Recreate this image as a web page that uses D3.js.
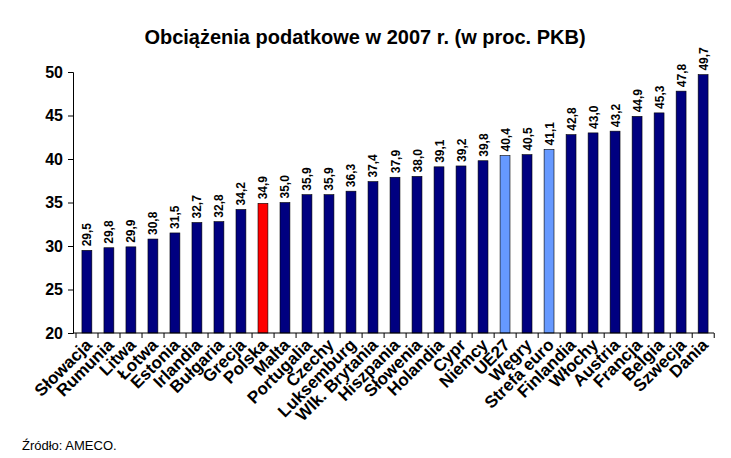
<!DOCTYPE html>
<html><head><meta charset="utf-8">
<script src="https://cdn.jsdelivr.net/npm/d3@7"></script>
<style>body{margin:0;background:#fff}text{font-family:Arial,"Liberation Sans",sans-serif}</style>
</head><body><svg id="c" width="731" height="458"></svg>
<script>
var countries = ["Słowacja","Rumunia","Litwa","Łotwa","Estonia","Irlandia","Bułgaria","Grecja","Polska","Malta","Portugalia","Czechy","Luksemburg","Wlk. Brytania","Hiszpania","Słowenia","Holandia","Cypr","Niemcy","UE27","Węgry","Strefa euro","Finlandia","Włochy","Austria","Francja","Belgia","Szwecja","Dania"];
var values = [29.5,29.8,29.9,30.8,31.5,32.7,32.8,34.2,34.9,35.0,35.9,35.9,36.3,37.4,37.9,38.0,39.1,39.2,39.8,40.4,40.5,41.1,42.8,43.0,43.2,44.9,45.3,47.8,49.7];
var yTicks = [20,25,30,35,40,45,50];

var svg = d3.select("#c");
var x = d3.scaleBand().domain(countries).range([76, 714]).paddingInner(0.55).paddingOuter(0.27);
var y = d3.scaleLinear().domain([20, 50]).range([333, 72]);

function color(d) {
  if (d == "Polska") return "#ff0000";
  if (d == "UE27" || d == "Strefa euro") return "#6699ff";
  return "#000080";
}

svg.append("text").attr("x", 365).attr("y", 44).attr("text-anchor", "middle")
  .style("font-size", "20px").style("font-weight", "bold").text("Obciążenia podatkowe w 2007 r. (w proc. PKB)");

svg.selectAll("rect.bar").data(countries).enter().append("rect")
  .attr("x", function(d) { return x(d); })
  .attr("width", x.bandwidth())
  .attr("y", function(d, i) { return y(values[i]); })
  .attr("height", function(d, i) { return 333 - y(values[i]); })
  .attr("fill", function(d) { return color(d); })
  .attr("stroke", "#000").attr("stroke-width", 0.6);

svg.selectAll("text.val").data(countries).enter().append("text")
  .attr("transform", function(d, i) {
    return "translate(" + (x(d) + x.bandwidth() / 2 + 4.5) + "," + (y(values[i]) - 4) + ") rotate(-90)";
  })
  .style("font-size", "12px").style("font-weight", "bold")
  .text(function(d, i) { return values[i].toFixed(1).replace(".", ","); });

// y axis
var ya = svg.append("g").attr("transform", "translate(73,0)")
  .call(d3.axisLeft(y).tickValues(yTicks).tickSize(5).tickPadding(5));
ya.select(".domain").attr("stroke", "#000");
ya.selectAll("text").style("font-size", "16px").style("font-weight", "bold").attr("fill", "#000");

// x axis line with boundary ticks
svg.append("line").attr("x1", 73).attr("x2", 714).attr("y1", 333).attr("y2", 333).attr("stroke", "#000");
var step = x.step();
svg.selectAll("line.xt").data(d3.range(countries.length + 1)).enter().append("line")
  .attr("x1", function(i) { return 76 + i * step; }).attr("x2", function(i) { return 76 + i * step; })
  .attr("y1", 333).attr("y2", 338).attr("stroke", "#000");

svg.selectAll("text.cat").data(countries).enter().append("text")
  .attr("transform", function(d) {
    return "translate(" + (x(d) + x.bandwidth() / 2 + 6) + ",346) rotate(-45)";
  })
  .attr("text-anchor", "end")
  .style("font-size", "17px").style("font-weight", "bold")
  .text(function(d) { return d; });

svg.append("text").attr("x", 22).attr("y", 450).style("font-size", "13px").text("Źródło: AMECO.");
</script></body></html>
